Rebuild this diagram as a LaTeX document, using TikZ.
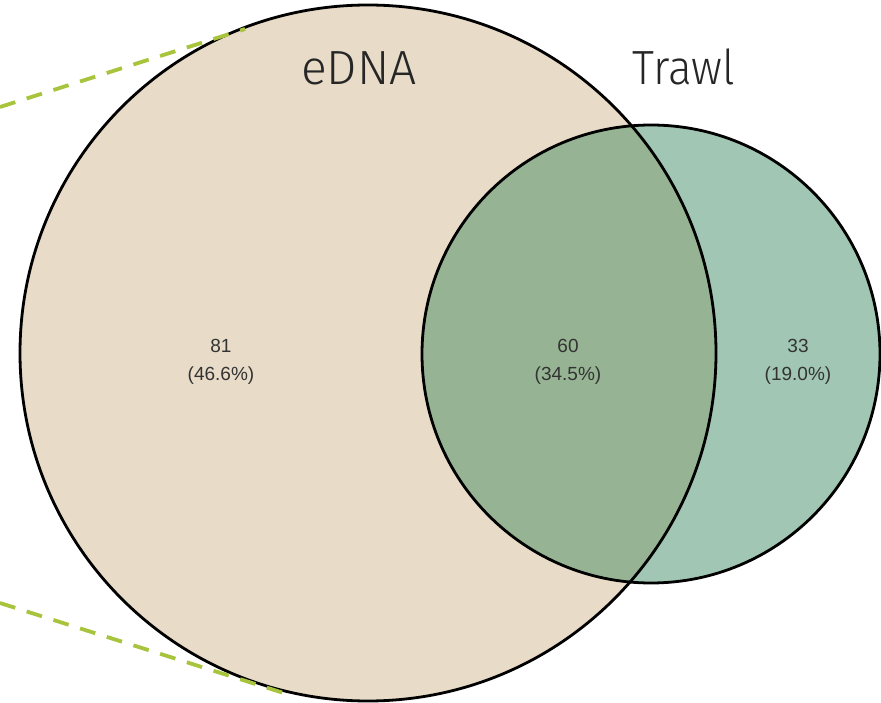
\documentclass[tikz,border=0pt]{standalone}
\usepackage{fontspec}
\setmainfont{Liberation Sans}
\newfontfamily\lightfont[UprightFont=* Light]{Fira Sans}
\definecolor{beige}{HTML}{E8DBC8}
\definecolor{sage}{HTML}{A1C6B3}
\definecolor{overlap}{HTML}{96B494}
\definecolor{lime}{HTML}{A8C43C}
\definecolor{numtext}{HTML}{333333}
\tikzset{
  setline/.style={draw=black, line width=2.8pt},
  guide/.style={draw=lime, line width=3.8pt, dash pattern=on 16pt off 12pt},
  title/.style={font=\lightfont\fontsize{48}{52}\selectfont, text=black!85, anchor=base, inner sep=0pt},
  count/.style={font=\fontsize{19}{28}\selectfont, text=numtext, align=center, inner sep=0pt}
}
\begin{document}
\begin{tikzpicture}[x=1pt,y=-1pt]
\useasboundingbox (0,0) rectangle (881,703);
\coordinate (cA) at (368,353);
\coordinate (cB) at (651,354);
\fill[beige] (cA) circle[radius=348];
\fill[sage] (cB) circle[radius=229];
\begin{scope}
  \clip (cA) circle[radius=348];
  \fill[overlap] (cB) circle[radius=229];
\end{scope}
\draw[setline] (cA) circle[radius=348];
\draw[setline] (cB) circle[radius=229];
\coordinate (t0) at (0,107);
\coordinate (t1) at (245,29);
\coordinate (b0) at (0,603);
\coordinate (b1) at (290,695);
\draw[guide] (t0) -- (t1);
\draw[guide] (b0) -- (b1);
\node[title] (lA) at (359,85) {eDNA};
\node[title, xscale=0.92] (lB) at (684,85) {Trawl};
\node[count] (nA) at (221,362) {81\\(46.6\%)};
\node[count] (nAB) at (568,362) {60\\(34.5\%)};
\node[count] (nB) at (798,362) {33\\(19.0\%)};
\end{tikzpicture}
\end{document}
